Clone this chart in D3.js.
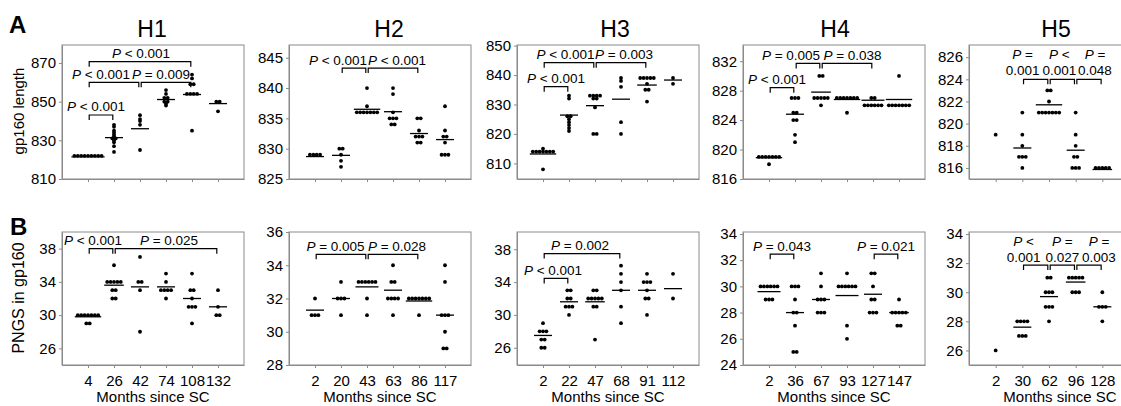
<!DOCTYPE html>
<html>
<head>
<meta charset="utf-8">
<script src="https://cdn.jsdelivr.net/npm/d3@7"></script>
<style>
  body { margin: 0; background: #fff; }
  svg { display: block; }
  text { font-family: "Liberation Sans", Arial, sans-serif; fill: #000; }
</style>
</head>
<body>
<svg id="chart" width="1121" height="406"></svg>
<script>
// categories (months since SC) per host
var hosts = ["H1", "H2", "H3", "H4", "H5"];
var months = [
  [4, 26, 42, 74, 108, 132],
  [2, 20, 43, 63, 86, 117],
  [2, 22, 47, 68, 91, 112],
  [2, 36, 67, 93, 127, 147],
  [2, 30, 62, 96, 128]
];

// panel A: gp160 length
var lenDomain = [[810, 879.3], [825, 847.1], [804.7, 850.2], [816, 834.2], [815, 827.1]];
var lenTicks = [[810, 830, 850, 870], [825, 830, 835, 840, 845], [810, 820, 830, 840, 850],
  [816, 820, 824, 828, 832], [816, 818, 820, 822, 824, 826]];
var lenDots = [
  [[822,822,822,822,822,822,822,822,822], [838,837,835,834,833,832,831,831,830,829,827,824],
   [843,841,840,838,825], [856,854,852,852,850,850,849,848], [864,862,859,859,854,854,854,854,835], [850,850,845]],
  [[829,829,829,829], [830,830,829,828,827], [840,837,836,836,836,836,836,836,836],
   [840,839,836,835,835,835,834,834], [835,835,833,832,832,832,831,831], [837,833,832,832,831,829,829,829]],
  [[815,814,814,814,814,814,814,814,808], [833,832,826,826,825,824,823,822,821],
   [833,833,833,833,832,832,829,820,820], [839,838,836,824,820], [839,839,839,839,839,837,835,835,831], [839,837]],
  [[819,819,819,819,819,819,819,818], [827,827,827,825,825,824,824,822,821], [830,830,827,827,827,827,827,826],
   [827,827,827,827,827,827,827,825], [827,827,826,826,826,826,826,826], [830,826,826,826,826,826,826,826]],
  [[819], [821,819,818,817,817,817,816], [823,823,822,821,821,821,821,821,821,821],
   [821,819,818,817,817,816,816,816], [816,816,816,816,816]]
];
var lenMeans = [
  [821.4, 831.4, 836, 851.1, 853.7, 849],
  [828.7, 828.9, 836.5, 836.1, 832.5, 831.5],
  [813.2, 826.4, 829.6, 831.8, 836.6, 838.3],
  [818.9, 824.8, 827.8, 826.8, 826.7, 826.8],
  [null, 817.8, 821.7, 817.6, 815.86]
];
// brackets: [from index, to index, level, comparison]
var lenBrackets = [
  [[0, 1, 843.1, "< 0.001"], [0, 2, 860, "< 0.001"], [2, 4, 860, "= 0.009"], [0, 4, 870.7, "< 0.001"]],
  [[1, 2, 843.3, "< 0.001"], [2, 4, 843.3, "< 0.001"]],
  [[0, 1, 836.05, "< 0.001"], [0, 2, 844.2, "< 0.001"], [2, 4, 844.2, "= 0.003"]],
  [[0, 1, 828.4, "< 0.001"], [1, 2, 831.7, "= 0.005"], [2, 4, 831.7, "= 0.038"]],
  [[1, 2, 824, "= 0.001"], [2, 3, 824, "< 0.001"], [3, 4, 824, "= 0.048"]]
];
var lenLabelShift = [[-5, -13, -5, 1], [-16, 4], [0, -3.5, 3], [-5, -17, 5.5], [-13, -3, 6]];

// panel B: PNGS in gp160
var pngsDomain = [[24, 40], [28, 36], [23.9, 40.1], [24, 34.15], [25, 34.14]];
var pngsTicks = [[26, 30, 34, 38], [28, 30, 32, 34, 36], [26, 30, 34, 38], [24, 26, 28, 30, 32, 34], [26, 28, 30, 32, 34]];
var pngsDots = [
  [[30,30,30,30,30,30,30,29,29], [36,34,34,34,34,34,33,33,32,32], [37,34,34,33,28],
   [35,34,33,33,33,33,32], [35,33,33,32,31,31,31,29], [33,31,30,30]],
  [[32,31,31,31], [33,32,32,32,31], [33,33,33,33,33,33,32,31], [34,33,33,32,32,32,32,31],
   [32,32,32,32,32,32,32,31], [34,33,31,31,31,30,29,29]],
  [[29,28,28,28,27,27,26,26], [33,33,32,32,31,31,31,30], [33,33,32,32,32,32,32,31,31,27],
   [36,35,34,33,31,29], [35,34,34,34,33,32,32,30], [35,32]],
  [[30,30,30,30,30,30,29,29,29], [30,30,30,29,28,28,27,25,25], [31,30,29,29,29,28,28,28],
   [31,30,30,30,30,30,30,27,26], [31,31,30,29,29,28,28,28], [29,28,28,28,28,28,27,27]],
  [[26], [28,28,28,28,27,27,27], [31,31,30,30,30,29,29,29,28], [31,31,31,31,31,30,30,30], [30,29,29,29,28]]
];
var pngsMeans = [
  [29.8, 33.6, 33.4, 33.4, 32, 31],
  [31.3, 32, 32.7, 32.5, 31.85, 31],
  [27.5, 31.6, 31.6, 33, 33, 33.2],
  [29.6, 28, 29, 29.3, 29.4, 28],
  [null, 27.6, 29.7, 30.7, 29]
];
var pngsBrackets = [
  [[0, 1, 38, "< 0.001"], [1, 5, 38, "= 0.025"]],
  [[0, 2, 34.66, "= 0.005"], [2, 4, 34.66, "= 0.028"]],
  [[0, 1, 34.45, "< 0.001"], [0, 3, 37.47, "= 0.002"]],
  [[0, 1, 32.46, "= 0.043"], [4, 5, 32.46, "= 0.021"]],
  [[1, 2, 31.87, "< 0.001"], [2, 3, 31.87, "= 0.027"], [3, 4, 31.87, "= 0.003"]]
];
var pngsLabelShift = [[-8, 3], [-5.5, 4], [-3, -2], [0, 0], [-12, 0, 10]];

var svg = d3.select('#chart');
var panelLeft = [62, 289, 517, 743, 969];
var panelWidth = [182, 182, 182, 182, 160];
var titleX = [152, 389, 615, 835, 1056];
var rowTop = [45, 232], rowBottom = [179, 365];
var gray = '#8a8a8a';

function drawPanel(row, p, domain, ticks, dots, means, brackets, shifts){
  var left = panelLeft[p], right = left + panelWidth[p];
  var x = d3.scalePoint().domain(months[p]).range([left, right]).padding(1);
  var y = d3.scaleLinear().domain(domain[p]).range([rowBottom[row], rowTop[row]]);
  var g = svg.append('g');

  var yAxis = g.append('g').attr('transform', 'translate(' + left + ',0)')
    .call(d3.axisLeft(y).tickValues(ticks[p]).tickSize(3).tickPadding(3).tickSizeOuter(0));
  yAxis.selectAll('text').attr('font-size', 15);
  var xAxis = g.append('g').attr('transform', 'translate(0,' + rowBottom[row] + ')')
    .call(d3.axisBottom(x).tickSize(3).tickPadding(7).tickSizeOuter(0)
      .tickFormat(row == 0 ? function(){ return ''; } : null));
  xAxis.selectAll('text').attr('font-size', 15);
  g.selectAll('.domain, .tick line').attr('stroke', gray);
  g.append('rect').attr('x', left).attr('y', rowTop[row])
    .attr('width', panelWidth[p]).attr('height', rowBottom[row] - rowTop[row])
    .attr('fill', 'none').attr('stroke', gray).attr('stroke-width', 1);

  // mean lines
  months[p].forEach(function(m, i){
    if(means[p][i] == null) return;
    var counts = d3.rollup(dots[p][i], function(v){ return v.length; }, function(d){ return d; });
    var half = Math.max(9, (d3.max(counts.values()) - 1) * 3.4 / 2 + 3);
    g.append('line').attr('x1', x(m) - half).attr('x2', x(m) + half)
      .attr('y1', y(means[p][i])).attr('y2', y(means[p][i]))
      .attr('stroke', '#000').attr('stroke-width', 1.3);
  });

  // dots, same values spread sideways
  months[p].forEach(function(m, i){
    var groups = d3.groups(dots[p][i], function(d){ return d; });
    groups.forEach(function(gr){
      var n = gr[1].length;
      gr[1].forEach(function(v, k){
        g.append('circle').attr('cx', x(m) + (k - (n - 1) / 2) * 3.4).attr('cy', y(v))
          .attr('r', 1.9).attr('fill', '#000');
      });
    });
  });

  // significance brackets
  brackets[p].forEach(function(b, k){
    var x1 = x(months[p][b[0]]) + 1.2, x2 = x(months[p][b[1]]) - 1.2, by = y(b[2]);
    g.append('path').attr('d', 'M' + x1 + ',' + (by + 5) + 'V' + by + 'H' + x2 + 'V' + (by + 5))
      .attr('fill', 'none').attr('stroke', '#000').attr('stroke-width', 1.2);
    var cx = (x1 + x2) / 2 + shifts[p][k];
    if(p == 4){
      var t1 = g.append('text').attr('x', cx).attr('y', by - (row == 0 ? 20.5 : 19.5))
        .attr('text-anchor', 'middle').attr('font-size', 13.5);
      t1.append('tspan').attr('font-style', 'italic').text('P');
      t1.append('tspan').text(' ' + b[3].split(' ')[0]);
      g.append('text').attr('x', cx).attr('y', by - (row == 0 ? 4 : 3))
        .attr('text-anchor', 'middle').attr('font-size', 13.5).text(b[3].split(' ')[1]);
    }else{
      var t = g.append('text').attr('x', cx).attr('y', by - 3.5)
        .attr('text-anchor', 'middle').attr('font-size', 13.5);
      t.append('tspan').attr('font-style', 'italic').text('P');
      t.append('tspan').text(' ' + b[3]);
    }
  });

  if(row == 0){
    svg.append('text').attr('x', titleX[p]).attr('y', 37).attr('text-anchor', 'middle')
      .attr('font-size', 23).text(hosts[p]);
  }else{
    svg.append('text').attr('x', left + 91).attr('y', 402).attr('text-anchor', 'middle')
      .attr('font-size', 15).text('Months since SC');
  }
}

for(var p = 0; p < hosts.length; p++){
  drawPanel(0, p, lenDomain, lenTicks, lenDots, lenMeans, lenBrackets, lenLabelShift);
  drawPanel(1, p, pngsDomain, pngsTicks, pngsDots, pngsMeans, pngsBrackets, pngsLabelShift);
}

svg.append('text').attr('x', 9).attr('y', 33).attr('font-size', 24).attr('font-weight', 'bold').text('A');
svg.append('text').attr('x', 10).attr('y', 235).attr('font-size', 24).attr('font-weight', 'bold').text('B');
svg.append('text').attr('transform', 'translate(24,111) rotate(-90)').attr('text-anchor', 'middle')
  .attr('font-size', 15).text('gp160 length');
svg.append('text').attr('transform', 'translate(24,298) rotate(-90)').attr('text-anchor', 'middle')
  .attr('font-size', 16).text('PNGS in gp160');
</script>
</body>
</html>
